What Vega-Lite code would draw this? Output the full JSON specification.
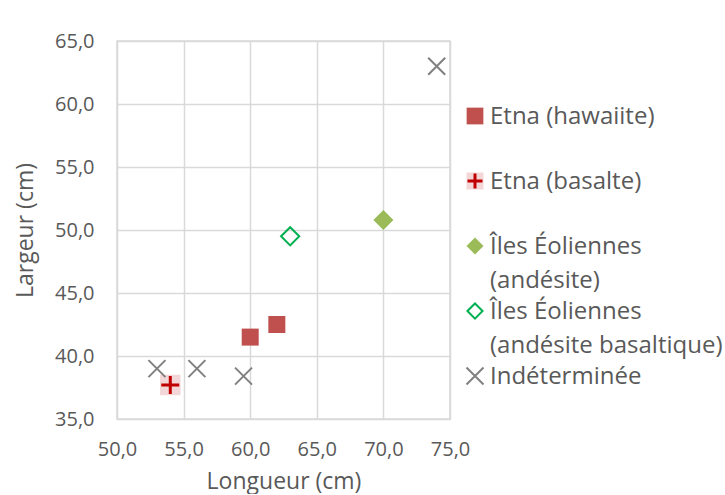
{
  "$schema": "https://vega.github.io/schema/vega-lite/v6.json",
  "padding": {"left": 13, "top": 30, "right": 5, "bottom": 0},
  "bounds": "flush",
  "spacing": 15,
  "background": "white",
  "config": {
    "font": "Open Sans",
    "view": {"stroke": "#D9D9D9", "strokeWidth": 1.5},
    "axis": {
      "labelColor": "#595959", "titleColor": "#595959",
      "labelFont": "Open Sans", "titleFont": "Open Sans",
      "labelFontSize": 20, "titleFontSize": 23, "titleFontWeight": "normal",
      "domain": false, "ticks": false, "gridColor": "#D9D9D9", "gridWidth": 1.5,
      "labelFlush": false, "labelOverlap": false
    }
  },
  "datasets": {
    "points": [
      {"series": "Etna (hawaiite)", "longueur": 60.0, "largeur": 41.5},
      {"series": "Etna (hawaiite)", "longueur": 62.0, "largeur": 42.5},
      {"series": "Etna (basalte)", "longueur": 54.0, "largeur": 37.7},
      {"series": "Îles Éoliennes (andésite)", "longueur": 70.0, "largeur": 50.8},
      {"series": "Îles Éoliennes (andésite basaltique)", "longueur": 63.0, "largeur": 49.5},
      {"series": "Indéterminée", "longueur": 53.0, "largeur": 39.0},
      {"series": "Indéterminée", "longueur": 56.0, "largeur": 39.0},
      {"series": "Indéterminée", "longueur": 59.5, "largeur": 38.4},
      {"series": "Indéterminée", "longueur": 74.0, "largeur": 63.0}
    ],
    "legend": [
      {"series": "Etna (hawaiite)", "label": "Etna (hawaiite)"},
      {"series": "Etna (basalte)", "label": "Etna (basalte)"},
      {"series": "Îles Éoliennes (andésite)", "label": "Îles Éoliennes\n(andésite)"},
      {"series": "Îles Éoliennes (andésite basaltique)", "label": "Îles Éoliennes\n(andésite basaltique)"},
      {"series": "Indéterminée", "label": "Indéterminée"}
    ]
  },
  "hconcat": [
    {
      "width": 333,
      "height": 378,
      "data": {"name": "points"},
      "encoding": {
        "x": {
          "field": "longueur", "type": "quantitative",
          "scale": {"domain": [50, 75], "nice": false, "zero": false},
          "axis": {"values": [50, 55, 60, 65, 70, 75], "title": "Longueur (cm)",
                   "labelExpr": "replace(format(datum.value, '.1f'), '.', ',')",
                   "labelPadding": 20, "titlePadding": 11}
        },
        "y": {
          "field": "largeur", "type": "quantitative",
          "scale": {"domain": [35, 65], "nice": false, "zero": false},
          "axis": {"values": [35, 40, 45, 50, 55, 60, 65], "title": "Largeur (cm)",
                   "labelExpr": "replace(format(datum.value, '.1f'), '.', ',')",
                   "labelPadding": 23, "titlePadding": 17}
        }
      },
      "layer": [
        {
          "transform": [{"filter": "datum.series == 'Etna (hawaiite)'"}],
          "mark": {"type": "point", "shape": "square", "filled": true, "color": "#C0504D", "size": 289, "opacity": 1}
        },
        {
          "transform": [{"filter": "datum.series == 'Etna (basalte)'"}],
          "mark": {"type": "point", "shape": "square", "filled": true, "color": "#F3D7D8", "size": 420, "opacity": 1}
        },
        {
          "transform": [{"filter": "datum.series == 'Etna (basalte)'"}],
          "mark": {"type": "point", "shape": "M-1,0L1,0M0,-1L0,1", "filled": false, "color": "#C00000", "size": 324, "strokeWidth": 3, "opacity": 1}
        },
        {
          "transform": [{"filter": "datum.series == 'Îles Éoliennes (andésite)'"}],
          "mark": {"type": "point", "shape": "diamond", "filled": true, "color": "#9BBB59", "size": 400, "opacity": 1}
        },
        {
          "transform": [{"filter": "datum.series == 'Îles Éoliennes (andésite basaltique)'"}],
          "mark": {"type": "point", "shape": "diamond", "filled": false, "color": "#00B050", "size": 330, "strokeWidth": 2, "opacity": 1}
        },
        {
          "transform": [{"filter": "datum.series == 'Indéterminée'"}],
          "mark": {"type": "point", "shape": "M-1,-1L1,1M1,-1L-1,1", "filled": false, "color": "#808080", "size": 289, "strokeWidth": 2, "opacity": 1}
        }
      ]
    },
    {
      "width": 20,
      "height": 390,
      "view": {"stroke": null},
      "data": {"name": "legend"},
      "encoding": {
        "y": {
          "field": "series", "type": "nominal",
          "scale": {"type": "point", "padding": 1, "align": 0.577,
                    "domain": ["Etna (hawaiite)", "Etna (basalte)", "Îles Éoliennes (andésite)", "Îles Éoliennes (andésite basaltique)", "Indéterminée"]},
          "axis": null
        }
      },
      "layer": [
        {
          "transform": [{"filter": "datum.series == 'Etna (hawaiite)'"}],
          "mark": {"type": "point", "shape": "square", "filled": true, "color": "#C0504D", "size": 280, "opacity": 1}
        },
        {
          "transform": [{"filter": "datum.series == 'Etna (basalte)'"}],
          "mark": {"type": "point", "shape": "square", "filled": true, "color": "#F3D7D8", "size": 289, "opacity": 1}
        },
        {
          "transform": [{"filter": "datum.series == 'Etna (basalte)'"}],
          "mark": {"type": "point", "shape": "M-1,0L1,0M0,-1L0,1", "filled": false, "color": "#C00000", "size": 225, "strokeWidth": 3, "opacity": 1}
        },
        {
          "transform": [{"filter": "datum.series == 'Îles Éoliennes (andésite)'"}],
          "mark": {"type": "point", "shape": "diamond", "filled": true, "color": "#9BBB59", "size": 289, "opacity": 1}
        },
        {
          "transform": [{"filter": "datum.series == 'Îles Éoliennes (andésite basaltique)'"}],
          "mark": {"type": "point", "shape": "diamond", "filled": false, "color": "#00B050", "size": 230, "strokeWidth": 2, "opacity": 1}
        },
        {
          "transform": [{"filter": "datum.series == 'Indéterminée'"}],
          "mark": {"type": "point", "shape": "M-1,-1L1,1M1,-1L-1,1", "filled": false, "color": "#808080", "size": 289, "strokeWidth": 2, "opacity": 1}
        },
        {
          "mark": {"type": "text", "align": "left", "baseline": "top", "dx": 15, "dy": -11,
                   "fontSize": 24, "color": "#595959", "font": "Open Sans", "lineBreak": "\n", "lineHeight": 34},
          "encoding": {"text": {"field": "label"}}
        }
      ]
    }
  ]
}
